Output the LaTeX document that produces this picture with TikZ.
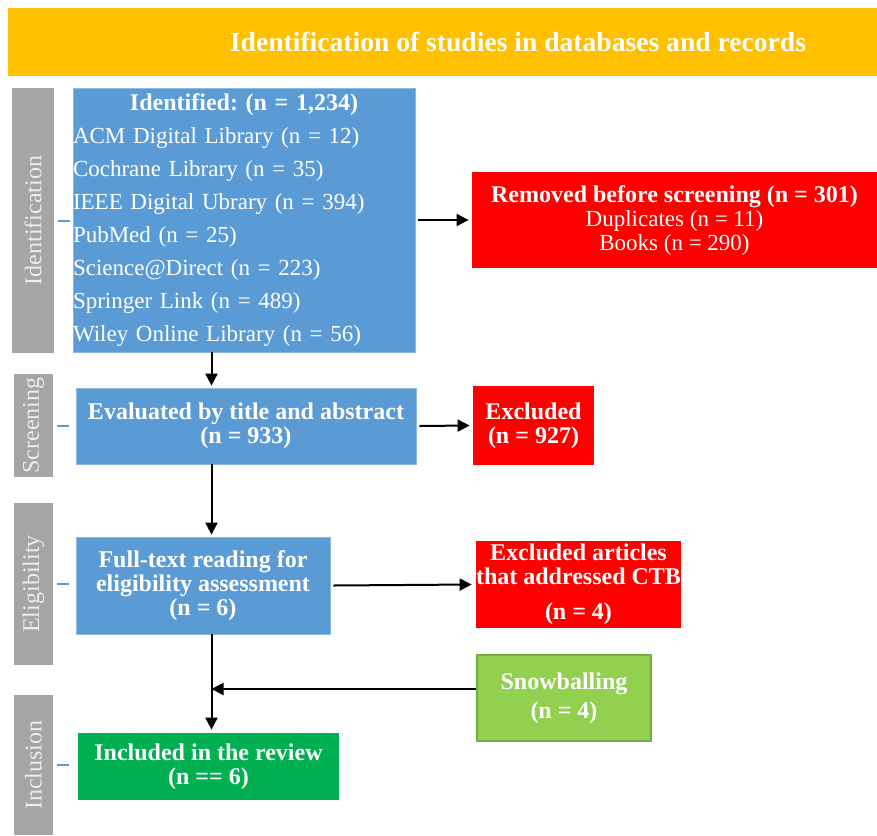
\documentclass[tikz,border=0pt]{standalone}
\usepackage{fontspec}
\setmainfont{Liberation Serif}
\usepackage{tikz}
\usetikzlibrary{arrows.meta}

\definecolor{hdr}{HTML}{FFC000}
\definecolor{phase}{HTML}{A5A5A5}
\definecolor{phasetext}{HTML}{EDEDED}
\definecolor{boxblue}{HTML}{5B9BD5}
\definecolor{boxred}{HTML}{FF0000}
\definecolor{boxgreen}{HTML}{00B050}
\definecolor{snowgreen}{HTML}{92D050}
\definecolor{snowedge}{HTML}{70AD47}

\begin{document}
\frenchspacing
\begin{tikzpicture}[
    x=0.5pt, y=-0.5pt,
    >={Triangle[length=6pt,width=6pt]},
    every edge/.style={draw, line width=1pt},
    stage/.style={fill=phase, rotate=90, inner sep=0pt, text=phasetext, font=\fontsize{12}{14}\selectfont},
    tick/.style={draw=boxblue, line width=1pt},
    bluebox/.style={fill=boxblue, draw=boxblue!70!white, line width=0.4pt, inner sep=0pt, align=center, text=white, font=\fontsize{12}{12}\selectfont\bfseries},
    redbox/.style={fill=boxred, inner sep=0pt, align=center, text=white, font=\fontsize{12}{12}\selectfont\bfseries},
    greenbox/.style={fill=boxgreen, inner sep=0pt, align=center, text=white, font=\fontsize{12}{12}\selectfont\bfseries}]

    \useasboundingbox[fill=white] (0,0) rectangle (877,835);

    %%% header
    \node at (442.5,42)[fill=hdr, minimum width=434.5pt, minimum height=34pt, inner sep=0pt,
        label={[text=white, font=\fontsize{13.8}{15}\selectfont\bfseries, xshift=37.75pt]center:Identification of studies in databases and records}] (header) {};

    %%% phases on the left
    \node at (33,220.5)[stage, minimum width=132.5pt, minimum height=21pt] (idphase) {Identification};
    \node at (33.5,425.5)[stage, minimum width=51.5pt, minimum height=19.5pt] (scrphase) {Screening};
    \node at (33.5,584)[stage, minimum width=81pt, minimum height=19.5pt] (eligphase) {Eligibility};
    \node at (33.5,765)[stage, minimum width=70pt, minimum height=19.5pt] (incphase) {Inclusion};

    \foreach \p in {idphase, scrphase, eligphase, incphase}
        \draw[tick] ([xshift=2pt]\p.south) -- ++(6pt,0);

    %%% boxes
    \node at (244,220)[bluebox, minimum width=171pt, minimum height=132pt, text width=171pt, align=left,
        font=\fontsize{11.5}{16.5}\selectfont] (ident)
        {\makebox[\linewidth][c]{\fontsize{12}{16.5}\selectfont\bfseries Identified: (n = 1,234)}\\
         ACM Digital Library (n = 12)\\
         Cochrane Library (n = 35)\\
         IEEE Digital Ubrary (n = 394)\\
         PubMed (n = 25)\\
         Science@Direct (n = 223)\\
         Springer Link (n = 489)\\
         Wiley Online Library (n = 56)};
    \node at (674.5,220)[redbox, minimum width=202.5pt, minimum height=48pt] (removed)
        {Removed before screening (n = 301)\\ \mdseries\fontsize{11.5}{12}\selectfont Duplicates (n = 11)\\ \mdseries\fontsize{11.5}{12}\selectfont Books (n = 290)};

    \node at (246,426)[bluebox, minimum width=170pt, minimum height=38pt] (scr) {Evaluated by title and abstract\\ (n = 933)};
    \node at (533.5,425.5)[redbox, minimum width=60.5pt, minimum height=39.5pt] (excl) {Excluded\\ (n = 927)};

    \node at (203,585.5)[bluebox, minimum width=127pt, minimum height=48.5pt] (elig) {Full-text reading for\\ eligibility assessment\\ (n = 6)};
    \node at (578.5,584.5)[redbox, minimum width=102.5pt, minimum height=43.5pt] (exart) {Excluded articles\\ that addressed CTB\\[5.5pt] (n = 4)};

    \node at (564,698)[greenbox, fill=snowgreen, draw=snowedge, line width=1pt, minimum width=87pt, minimum height=43pt,
        font=\fontsize{12}{14.5}\selectfont\bfseries] (snow) {Snowballing\\ (n = 4)};
    \node at (208.5,766.5)[greenbox, minimum width=130.5pt, minimum height=33.5pt] (incl) {Included in the review\\ (n == 6)};

    \coordinate (trunk) at (211.5,0);

    %%% Relations between boxes
    \path ([xshift=1.5pt]ident.east) edge [->] ([xshift=-1.5pt]removed.west);
    \path (ident.south -| trunk) edge [->] ([yshift=1pt]scr.north -| trunk);
    \path ([xshift=1.5pt]scr.east) edge [->] ([xshift=-1.5pt]excl.west);
    \path (scr.south -| trunk) edge [->] ([yshift=1pt]elig.north -| trunk);
    \path ([xshift=1.5pt]elig.east) edge [->] ([xshift=-2pt]exart.west);
    \path (elig.south -| trunk) edge [->] ([yshift=1.5pt]incl.north -| trunk);
    \path ([yshift=4.5pt]snow.west) edge [->] ([yshift=4.5pt]snow.west -| trunk);

\end{tikzpicture}
\end{document}
